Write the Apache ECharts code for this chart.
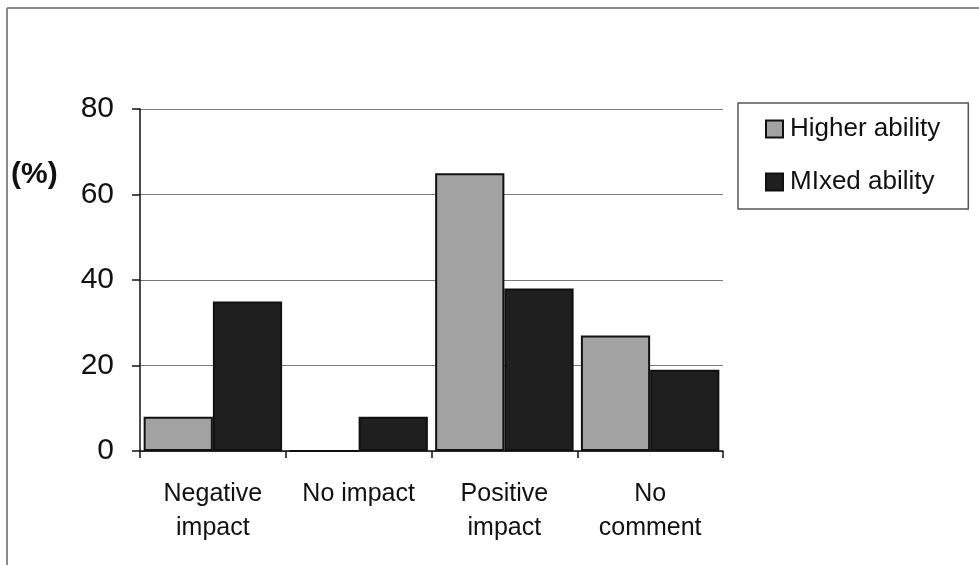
<!DOCTYPE html>
<html>
<head>
<meta charset="utf-8">
<script src="https://cdn.jsdelivr.net/npm/echarts@6/dist/echarts.min.js"></script>
<style>
  html, body { margin: 0; padding: 0; background: #fff; }
  #chart { width: 979px; height: 565px; }
</style>
</head>
<body>
<div id="chart"></div>
<script>
// Survey responses by class grouping (percent of pupils)
const categories = ['Negative\nimpact', 'No impact', 'Positive\nimpact', 'No\ncomment'];
const higherAbility = [8, 0, 65, 27];
const mixedAbility = [35, 8, 38, 19];
const yTicks = { min: 0, max: 80, interval: 20 };

const FONT = '"Liberation Sans", Arial, sans-serif';

const chart = echarts.init(document.getElementById('chart'), null, { renderer: 'canvas' });

chart.setOption({
  backgroundColor: '#ffffff',
  animation: false,
  textStyle: { fontFamily: FONT, color: '#111' },
  grid: { left: 140, right: 256, top: 109, bottom: 114, containLabel: false },
  legend: {
    orient: 'vertical',
    left: 738,
    top: 103,
    padding: [13, 28, 14, 27],
    itemGap: 27,
    itemWidth: 17,
    itemHeight: 17,
    icon: 'rect',
    borderColor: '#555',
    borderWidth: 1.5,
    textStyle: { fontFamily: FONT, fontSize: 26, color: '#111', padding: [0, 0, 0, 2] },
    data: ['Higher ability', 'MIxed ability']
  },
  xAxis: {
    type: 'category',
    data: categories,
    axisLine: { lineStyle: { color: '#111', width: 1.5 } },
    axisTick: { show: true, length: 7, lineStyle: { color: '#111', width: 1.5 } },
    axisLabel: {
      fontFamily: FONT, fontSize: 25, color: '#111',
      lineHeight: 34, margin: 26, interval: 0
    }
  },
  yAxis: {
    type: 'value',
    min: yTicks.min,
    max: yTicks.max,
    interval: yTicks.interval,
    axisLine: { show: true, lineStyle: { color: '#111', width: 1.5 } },
    axisTick: { show: true, length: 8, lineStyle: { color: '#111', width: 1.5 } },
    axisLabel: { fontFamily: FONT, fontSize: 30, color: '#111', margin: 26 },
    splitLine: { show: true, lineStyle: { color: '#777', width: 1.2 } }
  },
  series: [
    {
      name: 'Higher ability',
      type: 'bar',
      data: higherAbility,
      barGap: '0%',
      barCategoryGap: '5%',
      itemStyle: { color: '#a2a2a2', borderColor: '#111', borderWidth: 2 }
    },
    {
      name: 'MIxed ability',
      type: 'bar',
      data: mixedAbility,
      barGap: '0%',
      barCategoryGap: '5%',
      itemStyle: { color: '#1f1f1f', borderColor: '#111', borderWidth: 2 }
    }
  ],
  graphic: [
    // outer chart frame
    { type: 'line', shape: { x1: 7, y1: 8, x2: 979, y2: 8 }, style: { stroke: '#8a8a8a', lineWidth: 2 } },
    { type: 'line', shape: { x1: 7, y1: 8, x2: 7, y2: 565 }, style: { stroke: '#8a8a8a', lineWidth: 2 } },
    // unit label for the value axis
    {
      type: 'text', left: 11, top: 160,
      style: { text: '(%)', fontFamily: FONT, fontSize: 30, fontWeight: 'bold', fill: '#111' }
    }
  ]
});
</script>
</body>
</html>
